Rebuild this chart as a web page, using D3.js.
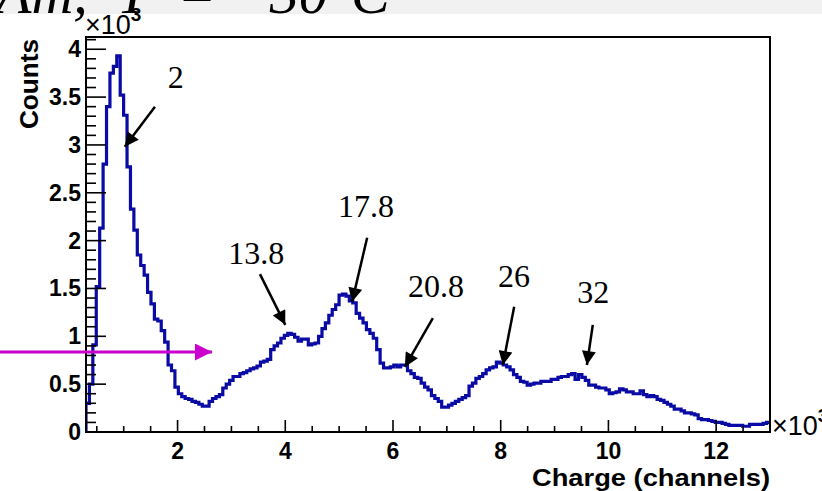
<!DOCTYPE html>
<html>
<head>
<meta charset="utf-8">
<title>Charge spectrum</title>
<script src="https://d3js.org/d3.v7.min.js"></script>
<style>
  body { margin: 0; background: #fff; }
  svg { display: block; }
  .tick-label { font-family: "Liberation Sans", Arial, sans-serif; font-weight: bold; font-size: 23px; fill: #000; }
  .axis-title { font-family: "Liberation Sans", Arial, sans-serif; font-weight: bold; fill: #000; }
  .peak-label { font-family: "Liberation Serif", "Times New Roman", serif; font-size: 32px; fill: #000; }
  .slide-title { font-family: "Liberation Serif", "Times New Roman", serif; font-style: italic; font-size: 58px; fill: #000; white-space: pre; }
  .exp { font-family: "Liberation Sans", Arial, sans-serif; font-size: 27px; fill: #000; }
</style>
</head>
<body>
<svg width="822" height="491"></svg>
<script>

// histogram: charge in units of 10^3 channels, counts in units of 10^3
var binStart = 0.3,
    binWidth = 0.0635;

var counts = [
  0.30, 0.50, 0.91, 1.52, 2.13, 2.80, 3.40, 3.75, 3.82, 3.93,
  3.52, 3.31, 2.77, 2.33, 2.11, 1.85, 1.74, 1.64, 1.46, 1.34,
  1.18, 1.16, 1.06, 0.94, 0.70, 0.64, 0.47, 0.40, 0.37, 0.35,
  0.34, 0.32, 0.31, 0.29, 0.27, 0.27, 0.32, 0.35, 0.37, 0.39,
  0.46, 0.50, 0.54, 0.58, 0.58, 0.61, 0.62, 0.64, 0.66, 0.67,
  0.69, 0.73, 0.74, 0.76, 0.86, 0.90, 0.93, 0.98, 1.01, 1.03,
  1.02, 0.99, 0.95, 0.97, 0.97, 0.91, 0.92, 0.93, 1.00, 1.08,
  1.14, 1.22, 1.28, 1.33, 1.43, 1.44, 1.42, 1.37, 1.35, 1.24,
  1.19, 1.14, 1.07, 1.03, 0.98, 0.86, 0.72, 0.67, 0.67, 0.68,
  0.70, 0.68, 0.70, 0.70, 0.64, 0.61, 0.57, 0.56, 0.51, 0.47,
  0.44, 0.38, 0.35, 0.32, 0.26, 0.26, 0.28, 0.30, 0.32, 0.34,
  0.36, 0.38, 0.48, 0.51, 0.56, 0.58, 0.61, 0.65, 0.67, 0.68,
  0.73, 0.72, 0.70, 0.68, 0.65, 0.60, 0.57, 0.53, 0.52, 0.49,
  0.50, 0.51, 0.51, 0.53, 0.53, 0.53, 0.55, 0.55, 0.57, 0.58,
  0.58, 0.60, 0.61, 0.55, 0.60, 0.57, 0.54, 0.49, 0.49, 0.47,
  0.46, 0.46, 0.44, 0.40, 0.41, 0.42, 0.45, 0.44, 0.42, 0.42,
  0.40, 0.40, 0.43, 0.39, 0.37, 0.38, 0.37, 0.34, 0.33, 0.31,
  0.29, 0.27, 0.24, 0.24, 0.22, 0.20, 0.20, 0.19, 0.18, 0.14,
  0.13, 0.13, 0.12, 0.11, 0.10, 0.10, 0.09, 0.08, 0.07, 0.07,
  0.07, 0.07, 0.06, 0.06, 0.08, 0.08, 0.08, 0.08, 0.09, 0.10
];

var xRange = [0.3, 13.0],
    yRange = [0, 4.128];

var xMajor = [2, 4, 6, 8, 10, 12],
    xMinorStep = 0.5;
var yMajor = [0, 0.5, 1, 1.5, 2, 2.5, 3, 3.5, 4],
    yMinorStep = 0.1;

// peak annotations (energy labels), arrow tail -> tip and label anchor, in data units
var peakLabels = ["2", "13.8", "17.8", "20.8", "26", "32"];
var peakArrows = [
  [1.58, 3.40, 1.02, 2.98],
  [3.53, 1.65, 4.00, 1.12],
  [5.52, 2.03, 5.24, 1.36],
  [6.74, 1.19, 6.22, 0.68],
  [8.25, 1.31, 8.04, 0.70],
  [9.71, 1.12, 9.60, 0.70]
];
var peakText = [
  [1.82, 3.59],
  [2.94, 1.755],
  [4.98, 2.247],
  [6.28, 1.411],
  [7.95, 1.515],
  [9.42, 1.348]
];
// magenta marker arrow
var markerArrow = [-1.3, 0.836, 2.64, 0.836];

var svg = d3.select("svg"),
    width = +svg.attr("width"),
    height = +svg.attr("height");

var frame = {left: 86, right: 770, top: 37, bottom: 432};

var x = d3.scaleLinear().domain(xRange).range([frame.left, frame.right]);
var y = d3.scaleLinear().domain(yRange).range([frame.bottom, frame.top]);

svg.append("rect").attr("width", width).attr("height", height).attr("fill", "#fff");

// strip of the slide title above the plot (only its lower edge is in view)
svg.append("rect").attr("x", 0).attr("y", 0).attr("width", width).attr("height", 14).attr("fill", "#f1f1f1");
svg.append("text").attr("class", "slide-title")
  .attr("x", -4).attr("y", 13)
  .text("Am,  T  = −30°C");

svg.append("defs").append("clipPath").attr("id", "plotclip")
  .append("rect")
  .attr("x", frame.left).attr("y", frame.top)
  .attr("width", frame.right - frame.left).attr("height", frame.bottom - frame.top);

// histogram as steps
var pts = [[binStart, 0]];
counts.forEach(function(c, i) {
  pts.push([binStart + i * binWidth, c]);
  pts.push([binStart + (i + 1) * binWidth, c]);
});

var line = d3.line()
    .x(function(d) { return x(d[0]); })
    .y(function(d) { return y(d[1]); });

svg.append("path")
  .attr("clip-path", "url(#plotclip)")
  .attr("d", line(pts))
  .attr("fill", "none")
  .attr("stroke", "#0a0aa5")
  .attr("stroke-width", 3.2)
  .attr("stroke-linejoin", "miter");

// ticks, drawn inward like ROOT
var axisG = svg.append("g").attr("stroke", "#000").attr("stroke-width", 1.6);
d3.range(0, 13.001, xMinorStep).filter(function(v) { return v >= xRange[0] && v <= xRange[1]; })
  .forEach(function(v) {
    var major = xMajor.indexOf(v) >= 0;
    axisG.append("line")
      .attr("x1", x(v)).attr("x2", x(v))
      .attr("y1", frame.bottom).attr("y2", frame.bottom - (major ? 12 : 6));
  });
d3.range(0, 42).map(function(i) { return +(i * yMinorStep).toFixed(2); })
  .filter(function(v) { return v <= yRange[1]; })
  .forEach(function(v) {
    var major = yMajor.indexOf(v) >= 0;
    axisG.append("line")
      .attr("x1", frame.left).attr("x2", frame.left + (major ? 20 : 10))
      .attr("y1", y(v)).attr("y2", y(v));
  });

// frame
svg.append("rect")
  .attr("x", frame.left).attr("y", frame.top)
  .attr("width", frame.right - frame.left).attr("height", frame.bottom - frame.top)
  .attr("fill", "none").attr("stroke", "#000").attr("stroke-width", 2);

// tick labels
svg.selectAll(".xlab").data(xMajor).enter().append("text")
  .attr("class", "tick-label")
  .attr("x", function(d) { return x(d); })
  .attr("y", 459)
  .attr("text-anchor", "middle")
  .text(function(d) { return d; });

svg.selectAll(".ylab").data(yMajor).enter().append("text")
  .attr("class", "tick-label")
  .attr("x", 81)
  .attr("y", function(d) { return y(d) + 8; })
  .attr("text-anchor", "end")
  .text(function(d) { return d; });

// exponent labels
function exponent(xpos, ypos) {
  var t = svg.append("text").attr("class", "exp").attr("x", xpos).attr("y", ypos);
  t.append("tspan").text("×10");
  t.append("tspan").attr("dy", -13).attr("font-size", 19).attr("font-weight", "bold").text("3");
}
exponent(frame.left - 1, 34);
exponent(frame.right + 2, 435);

// axis titles
svg.append("text").attr("class", "axis-title")
  .attr("font-size", 25)
  .attr("transform", "translate(38," + (frame.top + 2) + ") rotate(-90)")
  .attr("text-anchor", "end")
  .attr("textLength", 90)
  .attr("lengthAdjust", "spacingAndGlyphs")
  .text("Counts");

svg.append("text").attr("class", "axis-title")
  .attr("font-size", 23)
  .attr("x", frame.right).attr("y", 486)
  .attr("text-anchor", "end")
  .attr("textLength", 238)
  .attr("lengthAdjust", "spacingAndGlyphs")
  .text("Charge (channels)");

// arrow markers
var defs = svg.select("defs");
defs.append("marker").attr("id", "headBlack")
  .attr("viewBox", "0 0 10 10").attr("refX", 10).attr("refY", 5)
  .attr("markerUnits", "userSpaceOnUse")
  .attr("markerWidth", 17).attr("markerHeight", 14).attr("orient", "auto")
  .append("path").attr("d", "M0,0 L10,5 L0,10 Z").attr("fill", "#000");
defs.append("marker").attr("id", "headMagenta")
  .attr("viewBox", "0 0 10 10").attr("refX", 10).attr("refY", 5)
  .attr("markerUnits", "userSpaceOnUse")
  .attr("markerWidth", 17).attr("markerHeight", 17).attr("orient", "auto")
  .append("path").attr("d", "M0,0 L10,5 L0,10 Z").attr("fill", "#cc00cc");

svg.selectAll(".peak-arrow").data(peakArrows).enter().append("line")
  .attr("class", "peak-arrow")
  .attr("x1", function(d) { return x(d[0]); })
  .attr("y1", function(d) { return y(d[1]); })
  .attr("x2", function(d) { return x(d[2]); })
  .attr("y2", function(d) { return y(d[3]); })
  .attr("stroke", "#000").attr("stroke-width", 2.5)
  .attr("marker-end", "url(#headBlack)");

svg.selectAll(".peak-label").data(peakLabels).enter().append("text")
  .attr("class", "peak-label")
  .attr("x", function(d, i) { return x(peakText[i][0]); })
  .attr("y", function(d, i) { return y(peakText[i][1]); })
  .text(function(d) { return d; });

svg.append("line")
  .attr("x1", x(markerArrow[0])).attr("y1", y(markerArrow[1]))
  .attr("x2", x(markerArrow[2])).attr("y2", y(markerArrow[3]))
  .attr("stroke", "#cc00cc").attr("stroke-width", 3)
  .attr("marker-end", "url(#headMagenta)");

</script>
</body>
</html>
